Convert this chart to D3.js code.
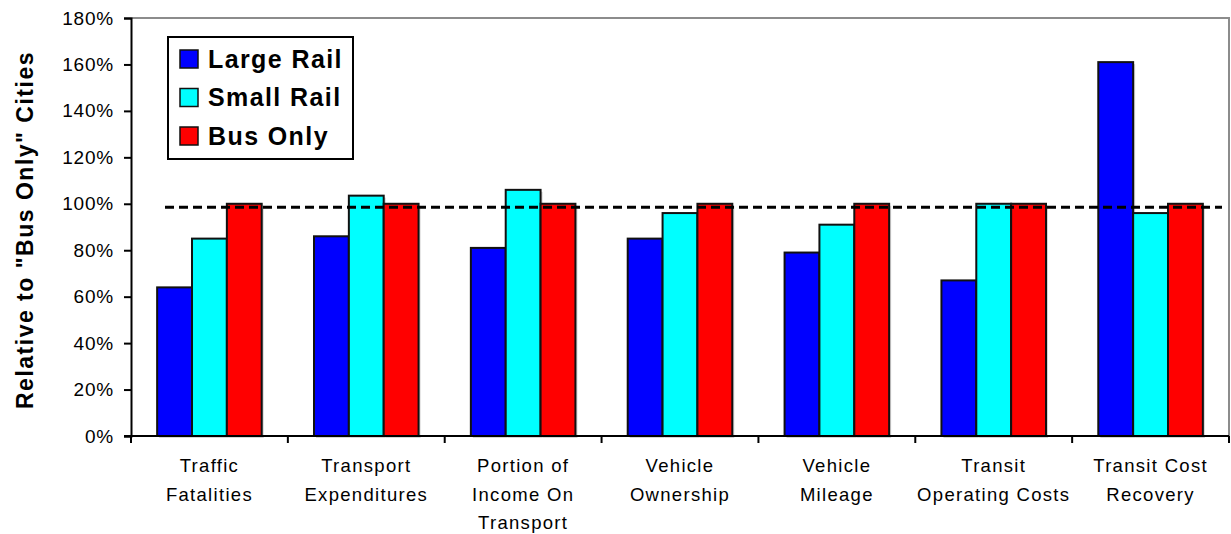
<!DOCTYPE html>
<html>
<head>
<meta charset="utf-8">
<script src="https://cdn.jsdelivr.net/npm/d3@7/dist/d3.min.js"></script>
<style>
  html, body { margin: 0; padding: 0; background: #fff; }
  svg { display: block; font-family: Arial, "Liberation Sans", sans-serif; }
</style>
</head>
<body>
<svg id="chart" width="1231" height="534"></svg>
<script>
// Category labels (line-broken as shown under the axis)
const categories = [
  ["Traffic", "Fatalities"],
  ["Transport", "Expenditures"],
  ["Portion of", "Income On", "Transport"],
  ["Vehicle", "Ownership"],
  ["Vehicle", "Mileage"],
  ["Transit", "Operating Costs"],
  ["Transit Cost", "Recovery"]
];
const seriesNames = ["Large Rail", "Small Rail", "Bus Only"];
const seriesColors = ["#0000FF", "#00FFFF", "#FF0000"];

// Values as percent of "Bus Only" cities
const largeRail = [64, 86, 81, 85, 79, 67, 161];
const smallRail = [85, 103.5, 106, 96, 91, 100, 96];
const busOnly   = [100, 100, 100, 100, 100, 100, 100];
const referenceLevel = 98.5;

const yTicks = [0, 20, 40, 60, 80, 100, 120, 140, 160, 180];
const yTitle = "Relative to \"Bus Only\" Cities";

const seriesValues = [largeRail, smallRail, busOnly];

const svg = d3.select("#chart");
const margin = { top: 18, right: 2, bottom: 98, left: 131 };
const W = 1231, H = 534;
const iw = W - margin.left - margin.right;
const ih = H - margin.top - margin.bottom;

const g = svg.append("g").attr("transform", `translate(${margin.left},${margin.top})`);

const catIdx = d3.range(categories.length);
const x = d3.scaleBand().domain(catIdx).range([0, iw]).paddingInner(0).paddingOuter(0);
const xs = d3.scaleBand().domain(d3.range(seriesNames.length))
  .range([0, x.bandwidth()]).paddingInner(0).paddingOuter(0.75);
const y = d3.scaleLinear().domain([0, 180]).range([ih, 0]);

// Plot frame: gray top/right edges
g.append("path")
  .attr("d", `M0,0H${iw}V${ih}`)
  .attr("fill", "none").attr("stroke", "#8c8c8c").attr("stroke-width", 2);

// Bars
const rows = [];
catIdx.forEach(i => seriesValues.forEach((vals, s) => rows.push({ i, s, v: vals[i] })));

// soft shadow behind bars
g.append("g").selectAll("rect").data(rows).join("rect")
  .attr("x", d => x(d.i) + xs(d.s) + 2)
  .attr("y", d => y(d.v) + 2)
  .attr("width", xs.bandwidth())
  .attr("height", d => ih - y(d.v))
  .attr("fill", "#d4d4d4");

g.append("g").selectAll("rect").data(rows).join("rect")
  .attr("x", d => x(d.i) + xs(d.s))
  .attr("y", d => y(d.v))
  .attr("width", xs.bandwidth())
  .attr("height", d => ih - y(d.v))
  .attr("fill", d => seriesColors[d.s])
  .attr("stroke", "#111").attr("stroke-width", 2);

// Reference dashed line
g.append("line")
  .attr("x1", 34).attr("x2", iw - 7)
  .attr("y1", y(referenceLevel)).attr("y2", y(referenceLevel))
  .attr("stroke", "#000").attr("stroke-width", 3)
  .attr("stroke-dasharray", "9,5");

// Y axis
const yAxis = g.append("g")
  .call(d3.axisLeft(y).tickValues(yTicks).tickFormat(d => d + "%").tickSize(7).tickPadding(10));
yAxis.select(".domain").attr("stroke", "#000").attr("stroke-width", 2);
yAxis.selectAll(".tick line").attr("stroke", "#000").attr("stroke-width", 2);
yAxis.selectAll(".tick text")
  .attr("font-size", 19).attr("fill", "#000")
  .attr("font-family", "Arial, 'Liberation Sans', sans-serif")
  .attr("letter-spacing", 0.8);

// X axis: baseline with ticks at category boundaries
const xAxis = g.append("g").attr("transform", `translate(0,${ih})`);
xAxis.append("line").attr("x1", -7).attr("x2", iw).attr("stroke", "#000").attr("stroke-width", 2);
xAxis.selectAll("line.tk").data(d3.range(categories.length + 1)).join("line")
  .attr("class", "tk")
  .attr("x1", d => d < categories.length ? x(d) : iw)
  .attr("x2", d => d < categories.length ? x(d) : iw)
  .attr("y1", 0).attr("y2", 7)
  .attr("stroke", "#000").attr("stroke-width", 2);

const labels = xAxis.selectAll("text.cat").data(catIdx).join("text")
  .attr("class", "cat")
  .attr("x", d => x(d) + x.bandwidth() / 2)
  .attr("y", 36)
  .attr("text-anchor", "middle")
  .attr("font-size", 18.5)
  .attr("letter-spacing", 1.3)
  .attr("fill", "#000");
labels.each(function (d) {
  d3.select(this).selectAll("tspan").data(categories[d]).join("tspan")
    .attr("x", x(d) + x.bandwidth() / 2)
    .attr("dy", (t, k) => k === 0 ? 0 : 28.5)
    .text(t => t);
});

// Y axis title
svg.append("text")
  .attr("transform", `translate(33,${margin.top + ih / 2 + 3}) rotate(-90)`)
  .attr("text-anchor", "middle")
  .attr("font-size", 23)
  .attr("font-weight", "bold")
  .attr("letter-spacing", 1.5)
  .attr("fill", "#000")
  .text(yTitle);

// Legend
const legend = svg.append("g").attr("transform", "translate(168,37)");
legend.append("rect")
  .attr("width", 185).attr("height", 122)
  .attr("fill", "#fff").attr("stroke", "#000").attr("stroke-width", 2);
const li = legend.selectAll("g.item").data(seriesNames).join("g")
  .attr("class", "item")
  .attr("transform", (d, k) => `translate(12,${13 + k * 38.5})`);
li.append("rect")
  .attr("width", 18).attr("height", 18)
  .attr("fill", (d, k) => seriesColors[k])
  .attr("stroke", "#111").attr("stroke-width", 1.5);
li.append("text")
  .attr("x", 28).attr("y", 17.5)
  .attr("font-size", 25).attr("font-weight", "bold")
  .attr("letter-spacing", 1.4)
  .attr("fill", "#000")
  .text(d => d);
</script>
</body>
</html>
